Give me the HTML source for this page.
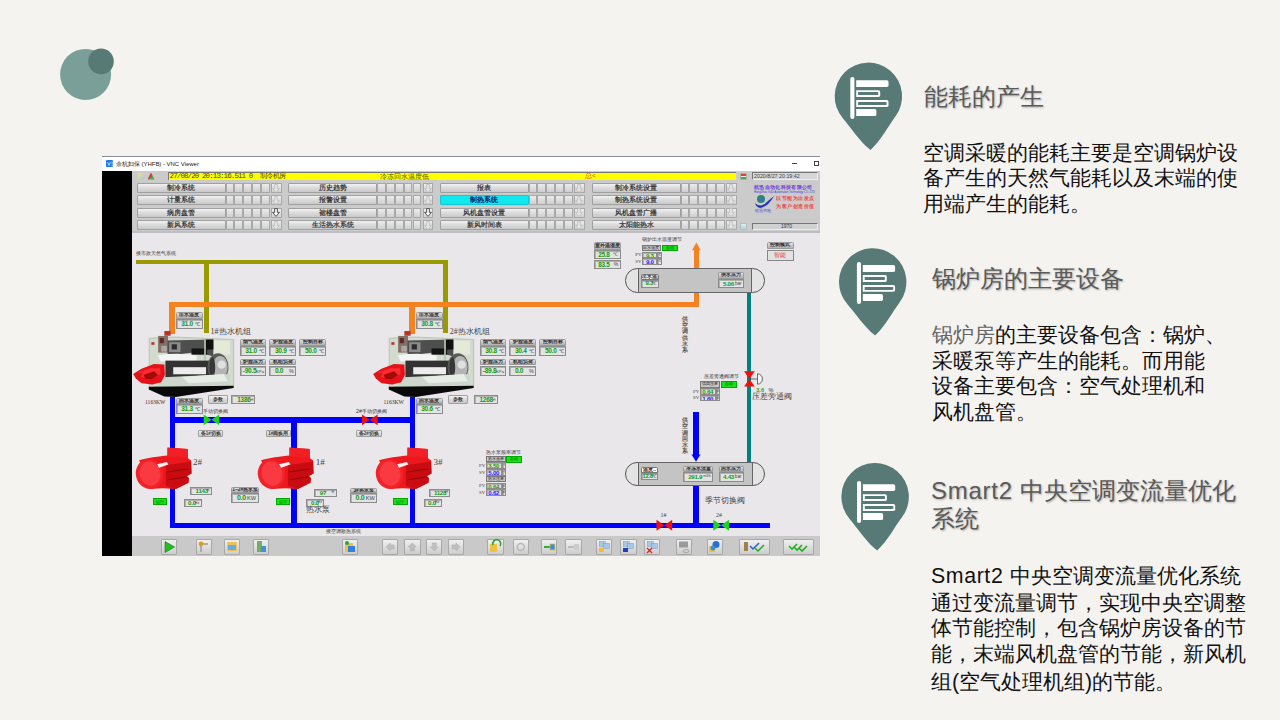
<!DOCTYPE html>
<html><head><meta charset="utf-8">
<style>
*{margin:0;padding:0;box-sizing:border-box}
html,body{width:1280px;height:720px;overflow:hidden}
body{position:relative;background:#f5f3f0;font-family:"Liberation Sans",sans-serif}
.a{position:absolute}
.t{position:absolute;white-space:nowrap;line-height:1}
.ttl{position:absolute;font-size:24px;line-height:28.5px;color:#5a5a5a;text-shadow:1px 1px 2px rgba(0,0,0,.28);white-space:nowrap}
.bd{position:absolute;font-size:21.33px;color:#111;white-space:nowrap}
.btn{position:absolute;background:linear-gradient(#f2f2f2,#dcdcdc 45%,#c9c9c9);border:1px solid #a0a0a0;border-radius:1px;font-size:6.7px;font-weight:bold;color:#3a3a3a;text-align:center;line-height:8px;white-space:nowrap;overflow:hidden}
.sq{position:absolute;background:linear-gradient(#ececec,#cfcfcf);border:1px solid #a8a8a8}
.pn{position:absolute}
.ph{position:absolute;left:0;right:0;top:0;background:linear-gradient(#e2e2e2,#b0b0b0);border:1px solid #9a9a9a;border-radius:1.5px 1.5px 0 0;font-size:4.8px;font-weight:bold;color:#222;text-align:center;white-space:nowrap;overflow:hidden}
.pv{position:absolute;left:0;right:0;background:#e3e3e3;border:1px solid #8c8c8c;box-shadow:inset 1px 1px 0 #b0b0b0;white-space:nowrap;overflow:hidden}
.g{color:#129a12;font-weight:bold;letter-spacing:-0.3px}
.b{color:#1a1aff;font-weight:bold;letter-spacing:-0.3px}
.tb{position:absolute;background:linear-gradient(#f0f0f0,#cdcdcd);border:1px solid #a8a8a8;border-radius:1px}
</style></head><body>

<svg class="a" style="left:0;top:0" width="1280" height="720">
<circle cx="85.6" cy="74.4" r="25.5" fill="#7a9e98"/>
<circle cx="101" cy="61.4" r="12.8" fill="#587a75"/>
<path d="M843.00 118.45 C851.28 127.94 859.16 140.87 870.60 150.10 C881.24 139.96 888.05 126.44 895.52 116.30 A33.7 33.7 0 1 0 843.00 118.45 Z" fill="#587a76"/>
<rect x="850.30" y="77.00" width="4.1" height="42.1" rx="2.05" fill="#fff"/><path d="M856.20 80.20 H886.80 Q888.50 80.20 888.50 81.90 V85.30 Q888.50 87.00 886.80 87.00 H856.20 Z" fill="#fff"/><path d="M856.20 90.20 H878.50 Q880.20 90.20 880.20 91.90 V95.30 Q880.20 97.00 878.50 97.00 H856.20 Z" fill="#fff"/><path d="M858.10 92.10 H877.50 Q878.30 92.10 878.30 92.90 V94.30 Q878.30 95.10 877.50 95.10 H858.10 Z" fill="#587a76"/><path d="M856.20 100.10 H886.80 Q888.50 100.10 888.50 101.80 V105.20 Q888.50 106.90 886.80 106.90 H856.20 Z" fill="#fff"/><path d="M858.10 102.00 H885.80 Q886.60 102.00 886.60 102.80 V104.20 Q886.60 105.00 885.80 105.00 H858.10 Z" fill="#587a76"/><path d="M856.20 109.10 H874.70 Q876.40 109.10 876.40 110.80 V114.40 Q876.40 116.10 874.70 116.10 H856.20 Z" fill="#fff"/>
<path d="M847.45 304.32 C855.75 313.70 863.67 326.50 875.10 335.60 C885.67 325.51 892.42 312.06 899.84 301.97 A33.7 33.7 0 1 0 847.45 304.32 Z" fill="#587a76"/>
<rect x="856.90" y="261.90" width="4.1" height="42.1" rx="2.05" fill="#fff"/><path d="M862.80 265.10 H893.40 Q895.10 265.10 895.10 266.80 V270.20 Q895.10 271.90 893.40 271.90 H862.80 Z" fill="#fff"/><path d="M862.80 275.10 H885.10 Q886.80 275.10 886.80 276.80 V280.20 Q886.80 281.90 885.10 281.90 H862.80 Z" fill="#fff"/><path d="M864.70 277.00 H884.10 Q884.90 277.00 884.90 277.80 V279.20 Q884.90 280.00 884.10 280.00 H864.70 Z" fill="#587a76"/><path d="M862.80 285.00 H893.40 Q895.10 285.00 895.10 286.70 V290.10 Q895.10 291.80 893.40 291.80 H862.80 Z" fill="#fff"/><path d="M864.70 286.90 H892.40 Q893.20 286.90 893.20 287.70 V289.10 Q893.20 289.90 892.40 289.90 H864.70 Z" fill="#587a76"/><path d="M862.80 294.00 H881.30 Q883.00 294.00 883.00 295.70 V299.30 Q883.00 301.00 881.30 301.00 H862.80 Z" fill="#fff"/>
<path d="M849.63 518.90 C857.90 528.41 865.77 541.35 877.20 550.60 C887.87 540.49 894.71 526.97 902.22 516.85 A33.75 33.75 0 1 0 849.63 518.90 Z" fill="#587a76"/>
<rect x="857.00" y="481.00" width="4.1" height="42.1" rx="2.05" fill="#fff"/><path d="M862.90 484.20 H893.50 Q895.20 484.20 895.20 485.90 V489.30 Q895.20 491.00 893.50 491.00 H862.90 Z" fill="#fff"/><path d="M862.90 494.20 H885.20 Q886.90 494.20 886.90 495.90 V499.30 Q886.90 501.00 885.20 501.00 H862.90 Z" fill="#fff"/><path d="M864.80 496.10 H884.20 Q885.00 496.10 885.00 496.90 V498.30 Q885.00 499.10 884.20 499.10 H864.80 Z" fill="#587a76"/><path d="M862.90 504.10 H893.50 Q895.20 504.10 895.20 505.80 V509.20 Q895.20 510.90 893.50 510.90 H862.90 Z" fill="#fff"/><path d="M864.80 506.00 H892.50 Q893.30 506.00 893.30 506.80 V508.20 Q893.30 509.00 892.50 509.00 H864.80 Z" fill="#587a76"/><path d="M862.90 513.10 H881.40 Q883.10 513.10 883.10 514.80 V518.40 Q883.10 520.10 881.40 520.10 H862.90 Z" fill="#fff"/>
</svg>
<div class="ttl" style="left:924px;top:82.6px">能耗的产生</div>
<div class="bd" style="left:923.2px;top:141px;line-height:25.3px">空调采暖的能耗主要是空调锅炉设<br>备产生的天然气能耗以及末端的使<br>用端产生的能耗。</div>
<div class="ttl" style="left:932px;top:265px">锅炉房的主要设备</div>
<div class="bd" style="left:932px;top:323.2px;line-height:25.6px"><span style="color:#666">锅炉房</span>的主要设备包含：锅炉、<br>采暖泵等产生的能耗。而用能<br>设备主要包含：空气处理机和<br>风机盘管。</div>
<div class="ttl" style="left:931px;top:476.8px"><span style="letter-spacing:0.75px">Smart2 </span>中央空调变流量优化<br>系统</div>
<div class="bd" style="left:931px;top:564.2px;line-height:25px"><span style="letter-spacing:0.6px">Smart2 </span>中央空调变流量优化系统</div>
<div class="bd" style="left:931px;top:591px;line-height:25px">通过变流量调节，实现中央空调整</div>
<div class="bd" style="left:931px;top:615.5px;line-height:25px">体节能控制，包含锅炉房设备的节</div>
<div class="bd" style="left:931px;top:642px;line-height:25px">能，末端风机盘管的节能，新风机</div>
<div class="bd" style="left:931px;top:669.5px;line-height:25px">组(空气处理机组)的节能。</div>
<div class="a" style="left:102.0px;top:156.0px;width:718.0px;height:1.0px;background:#8a8f99"></div>
<div class="a" style="left:102.0px;top:157.0px;width:718.0px;height:14.0px;background:#ffffff"></div>
<div class="a" style="left:105.6px;top:159.8px;width:7.9px;height:7.5px;background:#1e7ae8;border-radius:1px"></div>
<svg class="a" style="left:105.6px;top:159.8px" width="8" height="8"><path d="M1.5 2 L3 5.5 L4.5 2 M5.5 2.2 H7 M5.5 3.8 H7 M5.5 5.4 H7" stroke="#cfe4ff" stroke-width="0.8" fill="none"/></svg>
<div class="t" style="left:116.0px;top:161.2px;font-size:6px;color:#1a1a1a;letter-spacing:-0.03px">余杭妇保 (YHFB) - VNC Viewer</div>
<div class="a" style="left:791.5px;top:163.0px;width:5.0px;height:1.0px;background:#444"></div>
<div class="a" style="left:814.0px;top:160.8px;width:5.0px;height:5.0px;border:1px solid #444"></div>
<div class="a" style="left:102.0px;top:171.0px;width:30.3px;height:385.0px;background:#000"></div>
<div class="a" style="left:132.3px;top:171.0px;width:687.7px;height:61.5px;background:#cbcbcb"></div>
<div class="a" style="left:132.3px;top:232.5px;width:687.7px;height:303.8px;background:#e9e7ea"></div>
<div class="a" style="left:132.3px;top:230.5px;width:687.7px;height:2.5px;background:#bdbdc4"></div>
<div class="a" style="left:132.3px;top:536.3px;width:687.7px;height:19.7px;background:#c9c9c9"></div>
<div class="a" style="left:168.4px;top:171.8px;width:567.8px;height:8.4px;background:#ffff00;border-top:1px solid #777;border-left:1px solid #777"></div>
<div class="t" style="left:169.6px;top:172.8px;font-size:7.5px;color:#4a4a10;font-family:'Liberation Mono',monospace;letter-spacing:-0.9px">27/08/20 20:13:16.511 0&nbsp;&nbsp;<span style='font-size:7px;letter-spacing:-0.4px'>制冷机房</span></div>
<div class="t" style="left:380.3px;top:173.2px;font-size:7.4px;color:#55550a">冷冻回水温度低</div>
<div class="t" style="left:585.0px;top:173.2px;font-size:6.5px;color:#e05050">总<</div>
<div class="a" style="left:137.5px;top:173.0px;width:6.0px;height:6.5px;background:linear-gradient(135deg,#f6e08a,#9ccbe0);border-radius:1px"></div>
<div class="a" style="left:147.5px;top:172.5px;width:7.0px;height:7.0px;background:linear-gradient(135deg,#e03030 40%,#40b040 60%);clip-path:polygon(50% 0,100% 100%,0 100%)"></div>
<div class="a" style="left:740.0px;top:172.5px;width:6.5px;height:7.0px;background:linear-gradient(#e04040 0 35%,#f0f0f0 35% 60%,#40b040 60%);border:1px solid #aaa;border-radius:1px"></div>
<div class="a" style="left:752.0px;top:171.6px;width:66.0px;height:8.0px;background:#d6d6d6;border:1px solid #777;border-right-color:#eee;border-bottom-color:#eee"></div>
<div class="t" style="left:754.0px;top:173.8px;font-size:5.3px;color:#444">2020/8/27 20:19:42</div>
<div class="btn" style="left:136.6px;top:183.0px;width:89px;height:10px;">制冷系统</div>
<div class="sq" style="left:225.6px;top:183.0px;width:8.8px;height:10px"></div>
<div class="sq" style="left:234.4px;top:183.0px;width:8.8px;height:10px"></div>
<div class="sq" style="left:243.2px;top:183.0px;width:8.8px;height:10px"></div>
<div class="sq" style="left:252.0px;top:183.0px;width:8.8px;height:10px"></div>
<div class="sq" style="left:260.8px;top:183.0px;width:8.8px;height:10px"></div>
<div class="sq" style="left:271.2px;top:183.0px;width:10.4px;height:10px;background:linear-gradient(#eee,#d0d0d0)"></div>
<svg class="a" style="left:272.4px;top:183.6px" width="8" height="9"><path d="M2.6 0.6 H5.4 V4.4 H7.4 L4 8.4 L0.6 4.4 H2.6 Z" fill="#e4e4e4" stroke="#bbb" stroke-width="0.8"/></svg>
<div class="btn" style="left:136.6px;top:195.3px;width:89px;height:10px;">计量系统</div>
<div class="sq" style="left:225.6px;top:195.3px;width:8.8px;height:10px"></div>
<div class="sq" style="left:234.4px;top:195.3px;width:8.8px;height:10px"></div>
<div class="sq" style="left:243.2px;top:195.3px;width:8.8px;height:10px"></div>
<div class="sq" style="left:252.0px;top:195.3px;width:8.8px;height:10px"></div>
<div class="sq" style="left:260.8px;top:195.3px;width:8.8px;height:10px"></div>
<div class="sq" style="left:271.2px;top:195.3px;width:10.4px;height:10px;background:linear-gradient(#eee,#d0d0d0)"></div>
<svg class="a" style="left:272.4px;top:195.9px" width="8" height="9"><path d="M2.6 0.6 H5.4 V4.4 H7.4 L4 8.4 L0.6 4.4 H2.6 Z" fill="#e4e4e4" stroke="#bbb" stroke-width="0.8"/></svg>
<div class="btn" style="left:136.6px;top:207.6px;width:89px;height:10px;">病房盘管</div>
<div class="sq" style="left:225.6px;top:207.6px;width:8.8px;height:10px"></div>
<div class="sq" style="left:234.4px;top:207.6px;width:8.8px;height:10px"></div>
<div class="sq" style="left:243.2px;top:207.6px;width:8.8px;height:10px"></div>
<div class="sq" style="left:252.0px;top:207.6px;width:8.8px;height:10px"></div>
<div class="sq" style="left:260.8px;top:207.6px;width:8.8px;height:10px"></div>
<div class="sq" style="left:271.2px;top:207.6px;width:10.4px;height:10px;background:linear-gradient(#eee,#d0d0d0)"></div>
<svg class="a" style="left:272.4px;top:208.2px" width="8" height="9"><path d="M2.6 0.6 H5.4 V4.4 H7.4 L4 8.4 L0.6 4.4 H2.6 Z" fill="#f4f4f4" stroke="#333" stroke-width="0.8"/></svg>
<div class="btn" style="left:136.6px;top:219.9px;width:89px;height:10px;">新风系统</div>
<div class="sq" style="left:225.6px;top:219.9px;width:8.8px;height:10px"></div>
<div class="sq" style="left:234.4px;top:219.9px;width:8.8px;height:10px"></div>
<div class="sq" style="left:243.2px;top:219.9px;width:8.8px;height:10px"></div>
<div class="sq" style="left:252.0px;top:219.9px;width:8.8px;height:10px"></div>
<div class="sq" style="left:260.8px;top:219.9px;width:8.8px;height:10px"></div>
<div class="sq" style="left:271.2px;top:219.9px;width:10.4px;height:10px;background:linear-gradient(#eee,#d0d0d0)"></div>
<svg class="a" style="left:272.4px;top:220.5px" width="8" height="9"><path d="M2.6 0.6 H5.4 V4.4 H7.4 L4 8.4 L0.6 4.4 H2.6 Z" fill="#e4e4e4" stroke="#bbb" stroke-width="0.8"/></svg>
<div class="btn" style="left:288.3px;top:183.0px;width:89px;height:10px;">历史趋势</div>
<div class="sq" style="left:377.3px;top:183.0px;width:8.8px;height:10px"></div>
<div class="sq" style="left:386.1px;top:183.0px;width:8.8px;height:10px"></div>
<div class="sq" style="left:394.9px;top:183.0px;width:8.8px;height:10px"></div>
<div class="sq" style="left:403.7px;top:183.0px;width:8.8px;height:10px"></div>
<div class="sq" style="left:412.5px;top:183.0px;width:8.8px;height:10px"></div>
<div class="sq" style="left:422.9px;top:183.0px;width:10.4px;height:10px;background:linear-gradient(#eee,#d0d0d0)"></div>
<svg class="a" style="left:424.1px;top:183.6px" width="8" height="9"><path d="M2.6 0.6 H5.4 V4.4 H7.4 L4 8.4 L0.6 4.4 H2.6 Z" fill="#e4e4e4" stroke="#bbb" stroke-width="0.8"/></svg>
<div class="btn" style="left:288.3px;top:195.3px;width:89px;height:10px;">报警设置</div>
<div class="sq" style="left:377.3px;top:195.3px;width:8.8px;height:10px"></div>
<div class="sq" style="left:386.1px;top:195.3px;width:8.8px;height:10px"></div>
<div class="sq" style="left:394.9px;top:195.3px;width:8.8px;height:10px"></div>
<div class="sq" style="left:403.7px;top:195.3px;width:8.8px;height:10px"></div>
<div class="sq" style="left:412.5px;top:195.3px;width:8.8px;height:10px"></div>
<div class="sq" style="left:422.9px;top:195.3px;width:10.4px;height:10px;background:linear-gradient(#eee,#d0d0d0)"></div>
<svg class="a" style="left:424.1px;top:195.9px" width="8" height="9"><path d="M2.6 0.6 H5.4 V4.4 H7.4 L4 8.4 L0.6 4.4 H2.6 Z" fill="#e4e4e4" stroke="#bbb" stroke-width="0.8"/></svg>
<div class="btn" style="left:288.3px;top:207.6px;width:89px;height:10px;">裙楼盘管</div>
<div class="sq" style="left:377.3px;top:207.6px;width:8.8px;height:10px"></div>
<div class="sq" style="left:386.1px;top:207.6px;width:8.8px;height:10px"></div>
<div class="sq" style="left:394.9px;top:207.6px;width:8.8px;height:10px"></div>
<div class="sq" style="left:403.7px;top:207.6px;width:8.8px;height:10px"></div>
<div class="sq" style="left:412.5px;top:207.6px;width:8.8px;height:10px"></div>
<div class="sq" style="left:422.9px;top:207.6px;width:10.4px;height:10px;background:linear-gradient(#eee,#d0d0d0)"></div>
<svg class="a" style="left:424.1px;top:208.2px" width="8" height="9"><path d="M2.6 0.6 H5.4 V4.4 H7.4 L4 8.4 L0.6 4.4 H2.6 Z" fill="#f4f4f4" stroke="#333" stroke-width="0.8"/></svg>
<div class="btn" style="left:288.3px;top:219.9px;width:89px;height:10px;">生活热水系统</div>
<div class="sq" style="left:377.3px;top:219.9px;width:8.8px;height:10px"></div>
<div class="sq" style="left:386.1px;top:219.9px;width:8.8px;height:10px"></div>
<div class="sq" style="left:394.9px;top:219.9px;width:8.8px;height:10px"></div>
<div class="sq" style="left:403.7px;top:219.9px;width:8.8px;height:10px"></div>
<div class="sq" style="left:412.5px;top:219.9px;width:8.8px;height:10px"></div>
<div class="sq" style="left:422.9px;top:219.9px;width:10.4px;height:10px;background:linear-gradient(#eee,#d0d0d0)"></div>
<svg class="a" style="left:424.1px;top:220.5px" width="8" height="9"><path d="M2.6 0.6 H5.4 V4.4 H7.4 L4 8.4 L0.6 4.4 H2.6 Z" fill="#e4e4e4" stroke="#bbb" stroke-width="0.8"/></svg>
<div class="btn" style="left:439.6px;top:183.0px;width:89px;height:10px;">报表</div>
<div class="sq" style="left:528.6px;top:183.0px;width:8.8px;height:10px"></div>
<div class="sq" style="left:537.4px;top:183.0px;width:8.8px;height:10px"></div>
<div class="sq" style="left:546.2px;top:183.0px;width:8.8px;height:10px"></div>
<div class="sq" style="left:555.0px;top:183.0px;width:8.8px;height:10px"></div>
<div class="sq" style="left:563.8px;top:183.0px;width:8.8px;height:10px"></div>
<div class="sq" style="left:574.2px;top:183.0px;width:10.4px;height:10px;background:linear-gradient(#eee,#d0d0d0)"></div>
<svg class="a" style="left:575.4px;top:183.6px" width="8" height="9"><path d="M2.6 0.6 H5.4 V4.4 H7.4 L4 8.4 L0.6 4.4 H2.6 Z" fill="#e4e4e4" stroke="#bbb" stroke-width="0.8"/></svg>
<div class="btn" style="left:439.6px;top:195.3px;width:89px;height:10px;background:#10e8ee;border-color:#10c8d0;color:#116">制热系统</div>
<div class="sq" style="left:528.6px;top:195.3px;width:8.8px;height:10px"></div>
<div class="sq" style="left:537.4px;top:195.3px;width:8.8px;height:10px"></div>
<div class="sq" style="left:546.2px;top:195.3px;width:8.8px;height:10px"></div>
<div class="sq" style="left:555.0px;top:195.3px;width:8.8px;height:10px"></div>
<div class="sq" style="left:563.8px;top:195.3px;width:8.8px;height:10px"></div>
<div class="sq" style="left:574.2px;top:195.3px;width:10.4px;height:10px;background:linear-gradient(#eee,#d0d0d0)"></div>
<svg class="a" style="left:575.4px;top:195.9px" width="8" height="9"><path d="M2.6 0.6 H5.4 V4.4 H7.4 L4 8.4 L0.6 4.4 H2.6 Z" fill="#e4e4e4" stroke="#bbb" stroke-width="0.8"/></svg>
<div class="btn" style="left:439.6px;top:207.6px;width:89px;height:10px;">风机盘管设置</div>
<div class="sq" style="left:528.6px;top:207.6px;width:8.8px;height:10px"></div>
<div class="sq" style="left:537.4px;top:207.6px;width:8.8px;height:10px"></div>
<div class="sq" style="left:546.2px;top:207.6px;width:8.8px;height:10px"></div>
<div class="sq" style="left:555.0px;top:207.6px;width:8.8px;height:10px"></div>
<div class="sq" style="left:563.8px;top:207.6px;width:8.8px;height:10px"></div>
<div class="sq" style="left:574.2px;top:207.6px;width:10.4px;height:10px;background:linear-gradient(#eee,#d0d0d0)"></div>
<svg class="a" style="left:575.4px;top:208.2px" width="8" height="9"><path d="M2.6 0.6 H5.4 V4.4 H7.4 L4 8.4 L0.6 4.4 H2.6 Z" fill="#e4e4e4" stroke="#bbb" stroke-width="0.8"/></svg>
<div class="btn" style="left:439.6px;top:219.9px;width:89px;height:10px;">新风时间表</div>
<div class="sq" style="left:528.6px;top:219.9px;width:8.8px;height:10px"></div>
<div class="sq" style="left:537.4px;top:219.9px;width:8.8px;height:10px"></div>
<div class="sq" style="left:546.2px;top:219.9px;width:8.8px;height:10px"></div>
<div class="sq" style="left:555.0px;top:219.9px;width:8.8px;height:10px"></div>
<div class="sq" style="left:563.8px;top:219.9px;width:8.8px;height:10px"></div>
<div class="sq" style="left:574.2px;top:219.9px;width:10.4px;height:10px;background:linear-gradient(#eee,#d0d0d0)"></div>
<svg class="a" style="left:575.4px;top:220.5px" width="8" height="9"><path d="M2.6 0.6 H5.4 V4.4 H7.4 L4 8.4 L0.6 4.4 H2.6 Z" fill="#e4e4e4" stroke="#bbb" stroke-width="0.8"/></svg>
<div class="btn" style="left:591.6px;top:183.0px;width:89px;height:10px;">制冷系统设置</div>
<div class="sq" style="left:680.6px;top:183.0px;width:8.8px;height:10px"></div>
<div class="sq" style="left:689.4px;top:183.0px;width:8.8px;height:10px"></div>
<div class="sq" style="left:698.2px;top:183.0px;width:8.8px;height:10px"></div>
<div class="sq" style="left:707.0px;top:183.0px;width:8.8px;height:10px"></div>
<div class="sq" style="left:715.8px;top:183.0px;width:8.8px;height:10px"></div>
<div class="sq" style="left:726.2px;top:183.0px;width:10.4px;height:10px;background:linear-gradient(#eee,#d0d0d0)"></div>
<svg class="a" style="left:727.4px;top:183.6px" width="8" height="9"><path d="M2.6 0.6 H5.4 V4.4 H7.4 L4 8.4 L0.6 4.4 H2.6 Z" fill="#e4e4e4" stroke="#bbb" stroke-width="0.8"/></svg>
<div class="btn" style="left:591.6px;top:195.3px;width:89px;height:10px;">制热系统设置</div>
<div class="sq" style="left:680.6px;top:195.3px;width:8.8px;height:10px"></div>
<div class="sq" style="left:689.4px;top:195.3px;width:8.8px;height:10px"></div>
<div class="sq" style="left:698.2px;top:195.3px;width:8.8px;height:10px"></div>
<div class="sq" style="left:707.0px;top:195.3px;width:8.8px;height:10px"></div>
<div class="sq" style="left:715.8px;top:195.3px;width:8.8px;height:10px"></div>
<div class="sq" style="left:726.2px;top:195.3px;width:10.4px;height:10px;background:linear-gradient(#eee,#d0d0d0)"></div>
<svg class="a" style="left:727.4px;top:195.9px" width="8" height="9"><path d="M2.6 0.6 H5.4 V4.4 H7.4 L4 8.4 L0.6 4.4 H2.6 Z" fill="#e4e4e4" stroke="#bbb" stroke-width="0.8"/></svg>
<div class="btn" style="left:591.6px;top:207.6px;width:89px;height:10px;">风机盘管广播</div>
<div class="sq" style="left:680.6px;top:207.6px;width:8.8px;height:10px"></div>
<div class="sq" style="left:689.4px;top:207.6px;width:8.8px;height:10px"></div>
<div class="sq" style="left:698.2px;top:207.6px;width:8.8px;height:10px"></div>
<div class="sq" style="left:707.0px;top:207.6px;width:8.8px;height:10px"></div>
<div class="sq" style="left:715.8px;top:207.6px;width:8.8px;height:10px"></div>
<div class="sq" style="left:726.2px;top:207.6px;width:10.4px;height:10px;background:linear-gradient(#eee,#d0d0d0)"></div>
<svg class="a" style="left:727.4px;top:208.2px" width="8" height="9"><path d="M2.6 0.6 H5.4 V4.4 H7.4 L4 8.4 L0.6 4.4 H2.6 Z" fill="#e4e4e4" stroke="#bbb" stroke-width="0.8"/></svg>
<div class="btn" style="left:591.6px;top:219.9px;width:89px;height:10px;">太阳能热水</div>
<div class="sq" style="left:680.6px;top:219.9px;width:8.8px;height:10px"></div>
<div class="sq" style="left:689.4px;top:219.9px;width:8.8px;height:10px"></div>
<div class="sq" style="left:698.2px;top:219.9px;width:8.8px;height:10px"></div>
<div class="sq" style="left:707.0px;top:219.9px;width:8.8px;height:10px"></div>
<div class="sq" style="left:715.8px;top:219.9px;width:8.8px;height:10px"></div>
<div class="sq" style="left:726.2px;top:219.9px;width:10.4px;height:10px;background:linear-gradient(#eee,#d0d0d0)"></div>
<svg class="a" style="left:727.4px;top:220.5px" width="8" height="9"><path d="M2.6 0.6 H5.4 V4.4 H7.4 L4 8.4 L0.6 4.4 H2.6 Z" fill="#e4e4e4" stroke="#bbb" stroke-width="0.8"/></svg>
<div class="t" style="left:754.0px;top:184.8px;font-size:5.4px;color:#6a3de0;letter-spacing:0.33px;font-weight:bold">杭迅自动化科技有限公司</div>
<div class="t" style="left:754.0px;top:191.3px;font-size:2.9px;color:#4040d0;letter-spacing:-0.05px">HangZhou YuDi Automation Technology CO.,LTD</div>
<svg class="a" style="left:754px;top:193px" width="22" height="20"><ellipse cx="7" cy="6" rx="4" ry="4" fill="#2a8a60"/><ellipse cx="7" cy="6.5" rx="2.3" ry="2.3" fill="#3a70c0"/><path d="M1 10 Q7 16 14 8 L20 3 Q14 14 6 15 Q2 14 1 10Z" fill="#2030c0"/><text x="1" y="19" font-size="3.5" fill="#3a3ad8">杭迅节能</text></svg>
<div class="t" style="left:776.0px;top:195.6px;font-size:5.4px;color:#f04848;letter-spacing:0.55px;font-weight:bold">以节能为出发点</div>
<div class="t" style="left:776.0px;top:204.4px;font-size:5.4px;color:#f04848;letter-spacing:0.55px;font-weight:bold">为客户创造价值</div>
<div class="a" style="left:739.5px;top:223.0px;width:7.5px;height:7.0px;background:linear-gradient(#d8f0f8,#b0d0e0);border:1px solid #bbb"></div>
<div class="a" style="left:752.0px;top:222.5px;width:66.0px;height:7.7px;background:#d0d0d0;border:1px solid #777;border-right-color:#eee;border-bottom-color:#eee"></div>
<div class="t" style="left:781.0px;top:224.3px;font-size:5px;color:#333">1970</div>
<div class="t" style="left:136.0px;top:251.2px;font-size:5.3px;color:#333">接市政天然气系统</div>
<div class="a" style="left:136.0px;top:259.5px;width:312.2px;height:4.7px;background:#999900"></div>
<div class="a" style="left:203.5px;top:259.5px;width:5.3px;height:73.5px;background:#999900"></div>
<div class="a" style="left:443.0px;top:259.5px;width:5.2px;height:73.5px;background:#999900"></div>
<div class="a" style="left:169.4px;top:301.5px;width:529.5px;height:5.1px;background:#f58220"></div>
<div class="a" style="left:169.4px;top:301.5px;width:5.2px;height:32.5px;background:#f58220"></div>
<div class="a" style="left:409.4px;top:301.5px;width:5.2px;height:32.5px;background:#f58220"></div>
<div class="a" style="left:693.8px;top:292.7px;width:5.1px;height:13.9px;background:#f58220"></div>
<div class="a" style="left:693.8px;top:249.5px;width:5.1px;height:19.0px;background:#f58220"></div>
<svg class="a" style="left:690px;top:241px" width="12" height="10"><path d="M2 9.3 L6.35 1.4 L10.7 9.3Z" fill="#f58220"/></svg>
<div class="a" style="left:747.0px;top:292.7px;width:4.2px;height:169.0px;background:#008080"></div>
<div class="a" style="left:169.6px;top:396.6px;width:5.4px;height:131.1px;background:#0000ff"></div>
<div class="a" style="left:169.6px;top:417.0px;width:245.4px;height:5.6px;background:#0000ff"></div>
<div class="a" style="left:409.5px;top:396.6px;width:5.5px;height:131.1px;background:#0000ff"></div>
<div class="a" style="left:291.3px;top:422.6px;width:5.7px;height:105.1px;background:#0000ff"></div>
<div class="a" style="left:169.6px;top:522.7px;width:600.7px;height:5.0px;background:#0000ff"></div>
<div class="a" style="left:693.1px;top:485.9px;width:5.7px;height:41.8px;background:#0000ff"></div>
<div class="a" style="left:693.1px;top:412.0px;width:5.7px;height:43.0px;background:#0000ff"></div>
<svg class="a" style="left:690px;top:454px" width="12" height="9"><path d="M1.5 0.5 L10.5 0.5 L6 7.8Z" fill="#0000ff"/></svg>
<div class="a" style="left:625.0px;top:268.2px;width:140.3px;height:24.7px;background:#e4e4e4;border:1px solid #555;border-radius:12.3px"></div>
<div class="a" style="left:638.1px;top:268.2px;width:114.3px;height:24.7px;background:#c4c4c4;border:1px solid #666"></div>
<div class="a" style="left:625.3px;top:461.7px;width:139.9px;height:24.3px;background:#e4e4e4;border:1px solid #555;border-radius:12.2px"></div>
<div class="a" style="left:638.4px;top:461.7px;width:114.3px;height:24.3px;background:#c4c4c4;border:1px solid #666"></div>
<div class="ph" style="left:175.6px;top:311.9px;width:27.2px;height:6.8px;line-height:4.8px;">出水温度</div>
<div class="pv" style="left:175.6px;top:318.7px;width:27.2px;height:10.2px;font-size:6.6px;line-height:8.2px"><span class="g" style="position:absolute;left:4.6px">31.0</span><span style="position:absolute;right:1.5px;color:#444;font-size:5.3px">℃</span></div>
<div class="ph" style="left:239.6px;top:338.8px;width:26.9px;height:6.8px;line-height:4.8px;">烟气温度</div>
<div class="pv" style="left:239.6px;top:345.6px;width:26.9px;height:10.2px;font-size:6.6px;line-height:8.2px"><span class="g" style="position:absolute;left:4.6px">31.0</span><span style="position:absolute;right:1.5px;color:#444;font-size:5.3px">℃</span></div>
<div class="ph" style="left:269.3px;top:338.8px;width:27.0px;height:6.8px;line-height:4.8px;">炉膛温度</div>
<div class="pv" style="left:269.3px;top:345.6px;width:27.0px;height:10.2px;font-size:6.6px;line-height:8.2px"><span class="g" style="position:absolute;left:4.6px">30.9</span><span style="position:absolute;right:1.5px;color:#444;font-size:5.3px">℃</span></div>
<div class="ph" style="left:299.3px;top:338.8px;width:27.2px;height:6.8px;line-height:4.8px;">控制目标</div>
<div class="pv" style="left:299.3px;top:345.6px;width:27.2px;height:10.2px;font-size:6.6px;line-height:8.2px"><span class="g" style="position:absolute;left:4.6px">50.0</span><span style="position:absolute;right:1.5px;color:#444;font-size:5.3px">℃</span></div>
<div class="ph" style="left:239.6px;top:358.7px;width:26.9px;height:6.8px;line-height:4.8px;">炉膛压力</div>
<div class="pv" style="left:239.6px;top:365.5px;width:26.9px;height:10.2px;font-size:6.6px;line-height:8.2px"><span class="g" style="position:absolute;left:2.2px">-90.5</span><span style="position:absolute;right:1.5px;color:#444;font-size:5.3px"><span style='font-size:4.2px'>KPa</span></span></div>
<div class="ph" style="left:269.3px;top:358.7px;width:27.0px;height:6.8px;line-height:4.8px;">机组负荷</div>
<div class="pv" style="left:269.3px;top:365.5px;width:27.0px;height:10.2px;font-size:6.6px;line-height:8.2px"><span class="g" style="position:absolute;left:4.6px">0.0</span><span style="position:absolute;right:1.5px;color:#444;font-size:5.3px">%</span></div>
<div class="ph" style="left:175.6px;top:397.5px;width:27.2px;height:6.8px;line-height:4.8px;">回水温度</div>
<div class="pv" style="left:175.6px;top:404.3px;width:27.2px;height:10.2px;font-size:6.6px;line-height:8.2px"><span class="g" style="position:absolute;left:4.6px">31.3</span><span style="position:absolute;right:1.5px;color:#444;font-size:5.3px">℃</span></div>
<div class="btn" style="left:208.4px;top:394.7px;width:20px;height:9px;font-size:4.5px;line-height:7px">参数</div>
<div class="pv" style="left:231.3px;top:394.7px;width:24px;height:9px;font-size:6.5px;line-height:7px"><span class="g" style="position:absolute;left:5px">1386</span><span style="position:absolute;right:1px;color:#555;font-size:4px">H</span></div>
<div class="t" style="left:210.6px;top:327.5px;font-size:8px;color:#444;font-family:'Liberation Serif',serif">1#热水机组</div>
<div class="t" style="left:145.0px;top:399.5px;font-size:5.6px;color:#333;font-family:'Liberation Serif',serif">1163KW</div>
<div class="ph" style="left:415.6px;top:311.9px;width:27.2px;height:6.8px;line-height:4.8px;">出水温度</div>
<div class="pv" style="left:415.6px;top:318.7px;width:27.2px;height:10.2px;font-size:6.6px;line-height:8.2px"><span class="g" style="position:absolute;left:4.6px">30.8</span><span style="position:absolute;right:1.5px;color:#444;font-size:5.3px">℃</span></div>
<div class="ph" style="left:479.6px;top:338.8px;width:26.9px;height:6.8px;line-height:4.8px;">烟气温度</div>
<div class="pv" style="left:479.6px;top:345.6px;width:26.9px;height:10.2px;font-size:6.6px;line-height:8.2px"><span class="g" style="position:absolute;left:4.6px">30.8</span><span style="position:absolute;right:1.5px;color:#444;font-size:5.3px">℃</span></div>
<div class="ph" style="left:509.3px;top:338.8px;width:27.0px;height:6.8px;line-height:4.8px;">炉膛温度</div>
<div class="pv" style="left:509.3px;top:345.6px;width:27.0px;height:10.2px;font-size:6.6px;line-height:8.2px"><span class="g" style="position:absolute;left:4.6px">30.4</span><span style="position:absolute;right:1.5px;color:#444;font-size:5.3px">℃</span></div>
<div class="ph" style="left:539.3px;top:338.8px;width:27.2px;height:6.8px;line-height:4.8px;">控制目标</div>
<div class="pv" style="left:539.3px;top:345.6px;width:27.2px;height:10.2px;font-size:6.6px;line-height:8.2px"><span class="g" style="position:absolute;left:4.6px">50.0</span><span style="position:absolute;right:1.5px;color:#444;font-size:5.3px">℃</span></div>
<div class="ph" style="left:479.6px;top:358.7px;width:26.9px;height:6.8px;line-height:4.8px;">炉膛压力</div>
<div class="pv" style="left:479.6px;top:365.5px;width:26.9px;height:10.2px;font-size:6.6px;line-height:8.2px"><span class="g" style="position:absolute;left:2.2px">-89.8</span><span style="position:absolute;right:1.5px;color:#444;font-size:5.3px"><span style='font-size:4.2px'>KPa</span></span></div>
<div class="ph" style="left:509.3px;top:358.7px;width:27.0px;height:6.8px;line-height:4.8px;">机组负荷</div>
<div class="pv" style="left:509.3px;top:365.5px;width:27.0px;height:10.2px;font-size:6.6px;line-height:8.2px"><span class="g" style="position:absolute;left:4.6px">0.0</span><span style="position:absolute;right:1.5px;color:#444;font-size:5.3px">%</span></div>
<div class="ph" style="left:415.6px;top:397.5px;width:27.2px;height:6.8px;line-height:4.8px;">回水温度</div>
<div class="pv" style="left:415.6px;top:404.3px;width:27.2px;height:10.2px;font-size:6.6px;line-height:8.2px"><span class="g" style="position:absolute;left:4.6px">30.6</span><span style="position:absolute;right:1.5px;color:#444;font-size:5.3px">℃</span></div>
<div class="btn" style="left:448.4px;top:394.7px;width:20px;height:9px;font-size:4.5px;line-height:7px">参数</div>
<div class="pv" style="left:473.5px;top:394.7px;width:24px;height:9px;font-size:6.5px;line-height:7px"><span class="g" style="position:absolute;left:5px">1268</span><span style="position:absolute;right:1px;color:#555;font-size:4px">H</span></div>
<div class="t" style="left:449.7px;top:327.5px;font-size:8px;color:#444;font-family:'Liberation Serif',serif">2#热水机组</div>
<div class="t" style="left:383.5px;top:399.5px;font-size:5.6px;color:#333;font-family:'Liberation Serif',serif">1163KW</div>
<div class="t" style="left:203.0px;top:408.5px;font-size:5.2px;color:#333">手动切换阀</div>
<div class="t" style="left:356.0px;top:408.5px;font-size:5.2px;color:#333">2#手动切换阀</div>
<svg class="a" style="left:130px;top:325px" width="110" height="75" viewBox="0 0 1056 720">
<polygon points="185,128 300,118 450,116 995,140 995,590 185,600" fill="#d2dbcd" stroke="#b3bfae" stroke-width="8"/>
<rect x="800" y="150" width="160" height="135" fill="#e4ead8"/>
<rect x="270" y="105" width="95" height="160" fill="#857068"/>
<rect x="285" y="125" width="40" height="50" fill="#5a2a2a"/>
<rect x="300" y="200" width="55" height="55" fill="#a8a8a0"/>
<polygon points="360,148 800,140 800,300 640,262 360,292" fill="#4e4e4e"/>
<rect x="375" y="165" width="110" height="95" fill="#8a8a8a"/>
<rect x="400" y="185" width="50" height="50" fill="#2a2a2a"/>
<rect x="590" y="225" width="150" height="60" fill="#151515"/>
<rect x="725" y="140" width="75" height="95" fill="#101010"/>
<rect x="712" y="140" width="16" height="450" fill="#b8c0b4"/>
<path d="M270 290 Q460 262 640 292 L640 342 Q460 352 290 350Z" fill="#f4f4f4"/>
<rect x="340" y="342" width="420" height="168" fill="#333"/>
<rect x="415" y="405" width="315" height="68" fill="#ececec"/>
<ellipse cx="845" cy="405" rx="100" ry="135" fill="#5a5a5a"/>
<ellipse cx="865" cy="405" rx="72" ry="108" fill="#b4b4b4"/>
<ellipse cx="880" cy="380" rx="40" ry="40" fill="#e0e0e0"/>
<ellipse cx="790" cy="405" rx="28" ry="95" fill="#383838"/>
<polygon points="270,505 960,470 960,580 270,592" fill="#cdd6cb"/>
<polygon points="500,500 900,470 940,540 560,560" fill="#e8ece6"/>
<polygon points="180,592 995,582 995,604 440,690 330,686 180,618" fill="#0a0a0a"/>
<path d="M30 470 L110 420 L230 375 L330 378 L335 480 L300 550 L215 572 L110 560 L55 510Z" fill="#e5121a"/>
<path d="M80 455 L190 415 L290 415 L295 470 L220 510 L110 505Z" fill="#ff2a30"/>
<path d="M130 480 L230 445 L270 480 L210 520 L150 515Z" fill="#a00a0a"/>
<path d="M60 470 L120 455 L110 490Z" fill="#c02020"/>
<rect x="330" y="58" width="60" height="45" fill="#b83028"/>
<rect x="205" y="165" width="30" height="25" fill="#c03030"/>
</svg>
<svg class="a" style="left:370px;top:325px" width="110" height="75" viewBox="0 0 1056 720">
<polygon points="185,128 300,118 450,116 995,140 995,590 185,600" fill="#d2dbcd" stroke="#b3bfae" stroke-width="8"/>
<rect x="800" y="150" width="160" height="135" fill="#e4ead8"/>
<rect x="270" y="105" width="95" height="160" fill="#857068"/>
<rect x="285" y="125" width="40" height="50" fill="#5a2a2a"/>
<rect x="300" y="200" width="55" height="55" fill="#a8a8a0"/>
<polygon points="360,148 800,140 800,300 640,262 360,292" fill="#4e4e4e"/>
<rect x="375" y="165" width="110" height="95" fill="#8a8a8a"/>
<rect x="400" y="185" width="50" height="50" fill="#2a2a2a"/>
<rect x="590" y="225" width="150" height="60" fill="#151515"/>
<rect x="725" y="140" width="75" height="95" fill="#101010"/>
<rect x="712" y="140" width="16" height="450" fill="#b8c0b4"/>
<path d="M270 290 Q460 262 640 292 L640 342 Q460 352 290 350Z" fill="#f4f4f4"/>
<rect x="340" y="342" width="420" height="168" fill="#333"/>
<rect x="415" y="405" width="315" height="68" fill="#ececec"/>
<ellipse cx="845" cy="405" rx="100" ry="135" fill="#5a5a5a"/>
<ellipse cx="865" cy="405" rx="72" ry="108" fill="#b4b4b4"/>
<ellipse cx="880" cy="380" rx="40" ry="40" fill="#e0e0e0"/>
<ellipse cx="790" cy="405" rx="28" ry="95" fill="#383838"/>
<polygon points="270,505 960,470 960,580 270,592" fill="#cdd6cb"/>
<polygon points="500,500 900,470 940,540 560,560" fill="#e8ece6"/>
<polygon points="180,592 995,582 995,604 440,690 330,686 180,618" fill="#0a0a0a"/>
<path d="M30 470 L110 420 L230 375 L330 378 L335 480 L300 550 L215 572 L110 560 L55 510Z" fill="#e5121a"/>
<path d="M80 455 L190 415 L290 415 L295 470 L220 510 L110 505Z" fill="#ff2a30"/>
<path d="M130 480 L230 445 L270 480 L210 520 L150 515Z" fill="#a00a0a"/>
<path d="M60 470 L120 455 L110 490Z" fill="#c02020"/>
<rect x="330" y="58" width="60" height="45" fill="#b83028"/>
<rect x="205" y="165" width="30" height="25" fill="#c03030"/>
</svg>
<svg class="a" style="left:130px;top:440px" width="70" height="55" viewBox="0 0 916 720">
<path d="M120 265 C200 240 400 208 490 202 L490 98 L755 118 L760 240 L800 268 L805 440 L745 470 L772 500 L765 560 L600 642 L430 632 L250 640Z" fill="#ec181e"/>
<polygon points="470,330 800,280 805,440 745,470 772,500 765,560 600,642 470,600" fill="#c80c12"/>
<polygon points="490,100 755,118 758,230 490,215" fill="#f02026"/>
<ellipse cx="255" cy="445" rx="178" ry="198" transform="rotate(-15 255 445)" fill="#f2222a"/>
<ellipse cx="262" cy="440" rx="135" ry="160" transform="rotate(-15 262 440)" fill="#fa3a40"/>
<polygon points="355,318 482,288 502,322 380,362" fill="#fff2f2"/>
<path d="M480 420 L760 380 M500 520 L740 480" stroke="#a00008" stroke-width="14"/>
</svg>
<svg class="a" style="left:252.4px;top:440px" width="70" height="55" viewBox="0 0 916 720">
<path d="M120 265 C200 240 400 208 490 202 L490 98 L755 118 L760 240 L800 268 L805 440 L745 470 L772 500 L765 560 L600 642 L430 632 L250 640Z" fill="#ec181e"/>
<polygon points="470,330 800,280 805,440 745,470 772,500 765,560 600,642 470,600" fill="#c80c12"/>
<polygon points="490,100 755,118 758,230 490,215" fill="#f02026"/>
<ellipse cx="255" cy="445" rx="178" ry="198" transform="rotate(-15 255 445)" fill="#f2222a"/>
<ellipse cx="262" cy="440" rx="135" ry="160" transform="rotate(-15 262 440)" fill="#fa3a40"/>
<polygon points="355,318 482,288 502,322 380,362" fill="#fff2f2"/>
<path d="M480 420 L760 380 M500 520 L740 480" stroke="#a00008" stroke-width="14"/>
</svg>
<svg class="a" style="left:370.4px;top:440px" width="70" height="55" viewBox="0 0 916 720">
<path d="M120 265 C200 240 400 208 490 202 L490 98 L755 118 L760 240 L800 268 L805 440 L745 470 L772 500 L765 560 L600 642 L430 632 L250 640Z" fill="#ec181e"/>
<polygon points="470,330 800,280 805,440 745,470 772,500 765,560 600,642 470,600" fill="#c80c12"/>
<polygon points="490,100 755,118 758,230 490,215" fill="#f02026"/>
<ellipse cx="255" cy="445" rx="178" ry="198" transform="rotate(-15 255 445)" fill="#f2222a"/>
<ellipse cx="262" cy="440" rx="135" ry="160" transform="rotate(-15 262 440)" fill="#fa3a40"/>
<polygon points="355,318 482,288 502,322 380,362" fill="#fff2f2"/>
<path d="M480 420 L760 380 M500 520 L740 480" stroke="#a00008" stroke-width="14"/>
</svg>
<svg class="a" style="left:0;top:0;overflow:visible" width="1" height="1"><path d="M203.7 414.4L203.7 425.2L211.45 419.79999999999995Z M219.2 414.4L219.2 425.2L211.45 419.79999999999995Z" fill="#1ed21e"/></svg>
<svg class="a" style="left:0;top:0;overflow:visible" width="1" height="1"><path d="M362 414.4L362 425.2L369.8 419.79999999999995Z M377.6 414.4L377.6 425.2L369.8 419.79999999999995Z" fill="#ee1010"/></svg>
<svg class="a" style="left:0;top:0;overflow:visible" width="1" height="1"><path d="M656.5 519.7L656.5 530.8L664.35 525.25Z M672.2 519.7L672.2 530.8L664.35 525.25Z" fill="#ee1010"/></svg>
<svg class="a" style="left:0;top:0;overflow:visible" width="1" height="1"><path d="M713.3 519.7L713.3 530.8L721.15 525.25Z M729 519.7L729 530.8L721.15 525.25Z" fill="#1ed21e"/></svg>
<svg class="a" style="left:0;top:0;overflow:visible" width="1" height="1"><path d="M744 371.3L754.8 371.3L749.4 379Z M744 386.6L754.8 386.6L749.4 379Z" fill="#ee1010"/><path d="M749.4 379H757.5" stroke="#333" stroke-width="0.7"/><path d="M757.5 373.8 A5 5.2 0 0 1 757.5 384.2Z" fill="#f4f4f4" stroke="#333" stroke-width="0.7"/></svg>
<div class="btn" style="left:198.3px;top:430.0px;width:24.9px;height:7.2px;font-size:4.5px;line-height:5.2px">备1#切换</div>
<div class="btn" style="left:265.5px;top:430.0px;width:25.4px;height:7.2px;font-size:4.5px;line-height:5.2px">1#阀换用</div>
<div class="btn" style="left:355.7px;top:430.0px;width:26.0px;height:7.2px;font-size:4.5px;line-height:5.2px">备2#切换</div>
<div class="t" style="left:193.0px;top:458.0px;font-size:9px;color:#444;font-family:'Liberation Serif',serif">2#</div>
<div class="t" style="left:315.8px;top:458.0px;font-size:9px;color:#444;font-family:'Liberation Serif',serif">1#</div>
<div class="t" style="left:433.6px;top:458.0px;font-size:9px;color:#444;font-family:'Liberation Serif',serif">3#</div>
<div class="a" style="left:152.8px;top:497.5px;width:14.2px;height:7.5px;background:#19e019;border:1px solid #0a0;font-size:4px;color:#060;text-align:center;line-height:6px">运行</div>
<div class="a" style="left:276.0px;top:497.5px;width:14.2px;height:7.5px;background:#19e019;border:1px solid #0a0;font-size:4px;color:#060;text-align:center;line-height:6px">运行</div>
<div class="a" style="left:393.4px;top:497.5px;width:14.2px;height:7.5px;background:#19e019;border:1px solid #0a0;font-size:4px;color:#060;text-align:center;line-height:6px">运行</div>
<div class="pv" style="left:190.2px;top:487.0px;width:21.8px;height:7.6px;font-size:6.2px;line-height:5.6px"><span class="g" style="position:absolute;left:4.4px">1143</span><span style="position:absolute;right:1.5px;color:#444;font-size:3.6px">m</span></div>
<div class="pv" style="left:314.4px;top:489.0px;width:22.2px;height:7.6px;font-size:6.2px;line-height:5.6px"><span class="g" style="position:absolute;left:4.4px">97</span><span style="position:absolute;right:1.5px;color:#444;font-size:3.6px">H</span></div>
<div class="pv" style="left:428.6px;top:489.0px;width:21.7px;height:7.6px;font-size:6.2px;line-height:5.6px"><span class="g" style="position:absolute;left:4.3px">1128</span><span style="position:absolute;right:1.5px;color:#444;font-size:3.6px">H</span></div>
<div class="pv" style="left:183.5px;top:498.5px;width:18.2px;height:8.1px;font-size:6.2px;line-height:6.1px"><span class="g" style="position:absolute;left:3.6px">0.0</span><span style="position:absolute;right:1.5px;color:#444;font-size:3.6px">Hz</span></div>
<div class="pv" style="left:306.4px;top:499.0px;width:18.1px;height:7.6px;font-size:6.2px;line-height:5.6px"><span class="g" style="position:absolute;left:3.6px">0.0</span><span style="position:absolute;right:1.5px;color:#444;font-size:3.6px">Hz</span></div>
<div class="pv" style="left:423.5px;top:499.0px;width:18.2px;height:7.6px;font-size:6.2px;line-height:5.6px"><span class="g" style="position:absolute;left:3.6px">0.0</span><span style="position:absolute;right:1.5px;color:#444;font-size:3.6px">Hz</span></div>
<div class="ph" style="left:231.3px;top:487.0px;width:27.3px;height:5.6px;line-height:3.6px;">1~2#热水泵</div>
<div class="pv" style="left:231.3px;top:492.6px;width:27.3px;height:10.0px;font-size:7px;line-height:8.0px"><span class="g" style="position:absolute;left:4.6px">0.0</span><span style="position:absolute;right:1.5px;color:#444;font-size:5.6px">KW</span></div>
<div class="ph" style="left:350.0px;top:487.5px;width:27.2px;height:5.6px;line-height:3.6px;">3#热水泵</div>
<div class="pv" style="left:350.0px;top:493.1px;width:27.2px;height:10.0px;font-size:7px;line-height:8.0px"><span class="g" style="position:absolute;left:4.6px">0.0</span><span style="position:absolute;right:1.5px;color:#444;font-size:5.6px">KW</span></div>
<div class="t" style="left:306.4px;top:505.5px;font-size:8px;color:#444;font-family:'Liberation Serif',serif">热水泵</div>
<div class="t" style="left:326.4px;top:529.0px;font-size:5.2px;color:#333">接空调散热系统</div>
<div class="t" style="left:486.0px;top:449.5px;font-size:5px;color:#333">热水泵频率调节</div>
<div class="a" style="left:486.0px;top:455.5px;width:19.5px;height:6.5px;background:#c8c8c8;border:1px solid #777;font-size:4px;color:#222;text-align:center;line-height:4.5px;white-space:nowrap;overflow:hidden;">热水温差</div>
<div class="a" style="left:505.5px;top:455.9px;width:16.7px;height:6.8px;background:#c8c8c8;border:1px solid #777;font-size:4px;color:#222;text-align:center;line-height:4.8px;white-space:nowrap;overflow:hidden;background:#19e019;border-color:#0a0;color:#060">自动</div>
<div class="t" style="left:479.0px;top:463.1px;font-size:5px;color:#444;font-family:'Liberation Serif',serif">PV</div>
<div class="pv" style="left:486.0px;top:462.3px;width:15.5px;height:6.9px;font-size:6.2px;line-height:5px;text-align:center"><span class="g">3.50</span></div>
<div class="pv" style="left:501.5px;top:462.3px;width:4.4px;height:6.9px;font-size:3.6px;line-height:5px;color:#444">℃</div>
<div class="t" style="left:479.0px;top:470.0px;font-size:5px;color:#444;font-family:'Liberation Serif',serif">SV</div>
<div class="pv" style="left:486.0px;top:469.2px;width:15.5px;height:6.9px;font-size:6.2px;line-height:5px;text-align:center"><span class="b">5.00</span></div>
<div class="pv" style="left:501.5px;top:469.2px;width:4.4px;height:6.9px;font-size:3.6px;line-height:5px;color:#444">℃</div>
<div class="a" style="left:486.0px;top:476.1px;width:19.5px;height:6.2px;background:#c8c8c8;border:1px solid #777;font-size:4px;color:#222;text-align:center;line-height:4.2px;white-space:nowrap;overflow:hidden;">热水压差</div>
<div class="t" style="left:479.0px;top:483.3px;font-size:5px;color:#444;font-family:'Liberation Serif',serif">PV</div>
<div class="pv" style="left:486.0px;top:482.5px;width:15.5px;height:6.9px;font-size:6.2px;line-height:5px;text-align:center"><span class="g">0.64</span></div>
<div class="pv" style="left:501.5px;top:482.5px;width:4.4px;height:6.9px;font-size:3.6px;line-height:5px;color:#444">bar</div>
<div class="t" style="left:479.0px;top:490.2px;font-size:5px;color:#444;font-family:'Liberation Serif',serif">SV</div>
<div class="pv" style="left:486.0px;top:489.4px;width:15.5px;height:6.9px;font-size:6.2px;line-height:5px;text-align:center"><span class="b">0.62</span></div>
<div class="pv" style="left:501.5px;top:489.4px;width:4.4px;height:6.9px;font-size:3.6px;line-height:5px;color:#444">bar</div>
<div class="t" style="left:641.9px;top:236.8px;font-size:5px;color:#333">锅炉出水温度调节</div>
<div class="a" style="left:641.9px;top:245.1px;width:18.9px;height:6.1px;background:#c8c8c8;border:1px solid #777;font-size:4px;color:#222;text-align:center;line-height:4.1px;white-space:nowrap;overflow:hidden;">出水温度</div>
<div class="a" style="left:661.6px;top:245.1px;width:16.4px;height:6.1px;background:#c8c8c8;border:1px solid #777;font-size:4px;color:#222;text-align:center;line-height:4.1px;white-space:nowrap;overflow:hidden;background:#19e019;border-color:#0a0;color:#060">自动</div>
<div class="t" style="left:635.3px;top:252.4px;font-size:5px;color:#444;font-family:'Liberation Serif',serif">PV</div>
<div class="pv" style="left:642.3px;top:251.6px;width:14.9px;height:6.9px;font-size:6.2px;line-height:5px;text-align:center"><span class="g">9.3</span></div>
<div class="pv" style="left:657.2px;top:251.6px;width:4.4px;height:6.9px;font-size:3.6px;line-height:5px;color:#444">℃</div>
<div class="t" style="left:635.3px;top:259.2px;font-size:5px;color:#444;font-family:'Liberation Serif',serif">SV</div>
<div class="pv" style="left:642.3px;top:258.4px;width:14.9px;height:6.9px;font-size:6.2px;line-height:5px;text-align:center"><span class="b">9.0</span></div>
<div class="pv" style="left:657.2px;top:258.4px;width:4.4px;height:6.9px;font-size:3.6px;line-height:5px;color:#444">℃</div>
<div class="ph" style="left:593.8px;top:242.4px;width:27px;height:7.2px;line-height:5.2px">室外温湿度</div>
<div class="pv" style="left:593.8px;top:250.0px;width:27.0px;height:9.4px;font-size:6.4px;line-height:7.4px"><span class="g" style="position:absolute;left:3.5px">25.8</span><span style="position:absolute;right:1.5px;color:#444;font-size:5px">℃</span></div>
<div class="pv" style="left:593.8px;top:259.6px;width:27.0px;height:9.6px;font-size:6.4px;line-height:7.6px"><span class="g" style="position:absolute;left:3.5px">83.5</span><span style="position:absolute;right:1.5px;color:#444;font-size:5px">%</span></div>
<div class="ph" style="left:767.3px;top:242.4px;width:26.4px;height:6.8px;line-height:4.8px">控制模式</div>
<div class="a" style="left:767.3px;top:249.6px;width:26.4px;height:11.0px;background:#e2e2e2;border:1px solid #888;font-size:5.5px;color:#f03030;text-align:center;line-height:9px">智能</div>
<div class="ph" style="left:641.0px;top:273.8px;width:17.7px;height:6.6px;line-height:4.6px;background:#fff;border-color:#777">出水温度</div>
<div class="pv" style="left:641.0px;top:280.4px;width:17.7px;height:7.2px;font-size:6px;line-height:5.2px"><span class="g" style="position:absolute;left:3.5px">9.3</span><span style="position:absolute;right:1.5px;color:#444;font-size:4.5px">℃</span></div>
<div class="ph" style="left:718.4px;top:272.1px;width:25.7px;height:6.8px;line-height:4.8px;">供水压力</div>
<div class="pv" style="left:718.4px;top:278.9px;width:25.7px;height:9.6px;font-size:6.2px;line-height:7.6px"><span class="g" style="position:absolute;left:3.6px">5.06</span><span style="position:absolute;right:1.5px;color:#444;font-size:4.6px">bar</span></div>
<div class="ph" style="left:640.8px;top:467.0px;width:17.7px;height:6.2px;line-height:4.2px;background:#fff;border-color:#777">温度..</div>
<div class="pv" style="left:640.8px;top:473.2px;width:17.7px;height:7.2px;font-size:5.8px;line-height:5.2px"><span class="g" style="position:absolute;left:0.7px">12.8</span><span style="position:absolute;right:1.5px;color:#444;font-size:4.5px">℃</span></div>
<div class="ph" style="left:683.0px;top:466.0px;width:30.3px;height:6.4px;line-height:4.4px;">冷冻水流量</div>
<div class="pv" style="left:683.0px;top:472.4px;width:30.3px;height:9.4px;font-size:6.2px;line-height:7.4px"><span class="g" style="position:absolute;left:4.2px">291.9</span><span style="position:absolute;right:1.5px;color:#444;font-size:3.4px">m3/h</span></div>
<div class="ph" style="left:718.5px;top:466.0px;width:25.5px;height:6.4px;line-height:4.4px;">回水压力</div>
<div class="pv" style="left:718.5px;top:472.4px;width:25.5px;height:9.4px;font-size:6.2px;line-height:7.4px"><span class="g" style="position:absolute;left:3.6px">4.43</span><span style="position:absolute;right:1.5px;color:#444;font-size:4.6px">bar</span></div>
<div class="t" style="left:682.0px;top:315.8px;font-size:5.6px;line-height:6.25px;color:#555;font-weight:bold;text-align:center;width:6px">供<br>空<br>调<br>供<br>水<br>系</div>
<div class="t" style="left:681.6px;top:417.0px;font-size:5.6px;line-height:6.25px;color:#555;font-weight:bold;text-align:center;width:6px">供<br>空<br>调<br>回<br>水<br>系</div>
<div class="t" style="left:703.7px;top:375.0px;font-size:4.8px;color:#333">压差旁通阀调节</div>
<div class="a" style="left:700.0px;top:381.2px;width:19.7px;height:6.6px;background:#c8c8c8;border:1px solid #777;font-size:4px;color:#222;text-align:center;line-height:4.6px;white-space:nowrap;overflow:hidden;">供回压差</div>
<div class="a" style="left:720.6px;top:381.2px;width:16.9px;height:6.6px;background:#c8c8c8;border:1px solid #777;font-size:4px;color:#222;text-align:center;line-height:4.6px;white-space:nowrap;overflow:hidden;background:#19e019;border-color:#0a0;color:#060">自动</div>
<div class="t" style="left:693.0px;top:388.7px;font-size:5px;color:#444;font-family:'Liberation Serif',serif">PV</div>
<div class="pv" style="left:700.0px;top:387.9px;width:15.5px;height:6.9px;font-size:6.2px;line-height:5px;text-align:center"><span class="g">0.64</span></div>
<div class="pv" style="left:715.5px;top:387.9px;width:4.4px;height:6.9px;font-size:3.6px;line-height:5px;color:#444">bar</div>
<div class="t" style="left:693.0px;top:395.4px;font-size:5px;color:#444;font-family:'Liberation Serif',serif">SV</div>
<div class="pv" style="left:700.0px;top:394.6px;width:15.5px;height:6.9px;font-size:6.2px;line-height:5px;text-align:center"><span class="b">1.60</span></div>
<div class="pv" style="left:715.5px;top:394.6px;width:4.4px;height:6.9px;font-size:3.6px;line-height:5px;color:#444">bar</div>
<div class="t" style="left:756.3px;top:387.5px;font-size:5.5px"><span style="color:#1fa31f;font-weight:bold">3.6</span>&nbsp;&nbsp;&nbsp;<span style="color:#333">%</span></div>
<div class="t" style="left:752.0px;top:393.3px;font-size:7.8px;color:#444">压差旁通阀</div>
<div class="t" style="left:705.2px;top:497.2px;font-size:7.6px;color:#444">季节切换阀</div>
<div class="t" style="left:660.5px;top:511.5px;font-size:6px;color:#444;font-family:'Liberation Serif',serif">1#</div>
<div class="t" style="left:715.9px;top:511.5px;font-size:6px;color:#444;font-family:'Liberation Serif',serif">2#</div>
<div class="tb" style="left:161.4px;top:538.6px;width:16.1px;height:16.6px"></div>
<div class="tb" style="left:195.6px;top:538.6px;width:16.5px;height:16.6px"></div>
<div class="tb" style="left:223.8px;top:538.6px;width:16.7px;height:16.6px"></div>
<div class="tb" style="left:253.0px;top:538.6px;width:16.1px;height:16.6px"></div>
<div class="tb" style="left:341.6px;top:538.6px;width:16.5px;height:16.6px"></div>
<div class="tb" style="left:381.9px;top:538.6px;width:16.5px;height:16.6px"></div>
<div class="tb" style="left:404.0px;top:538.6px;width:16.5px;height:16.6px"></div>
<div class="tb" style="left:426.2px;top:538.6px;width:16.1px;height:16.6px"></div>
<div class="tb" style="left:447.6px;top:538.6px;width:16.7px;height:16.6px"></div>
<div class="tb" style="left:487.3px;top:538.6px;width:16.5px;height:16.6px"></div>
<div class="tb" style="left:512.7px;top:538.6px;width:16.3px;height:16.6px"></div>
<div class="tb" style="left:541.0px;top:538.6px;width:16.3px;height:16.6px"></div>
<div class="tb" style="left:565.3px;top:538.6px;width:16.7px;height:16.6px"></div>
<div class="tb" style="left:596.3px;top:538.6px;width:15.9px;height:16.6px"></div>
<div class="tb" style="left:620.3px;top:538.6px;width:16.3px;height:16.6px"></div>
<div class="tb" style="left:644.2px;top:538.6px;width:16.1px;height:16.6px"></div>
<div class="tb" style="left:676.0px;top:538.6px;width:16.4px;height:16.6px"></div>
<div class="tb" style="left:706.6px;top:538.6px;width:16.9px;height:16.6px"></div>
<div class="tb" style="left:739.4px;top:538.6px;width:30.2px;height:16.6px"></div>
<div class="tb" style="left:783.0px;top:538.6px;width:30.5px;height:16.6px"></div>
<svg class="a" style="left:0;top:0;overflow:visible" width="1" height="1">
<path d="M165 541.5 L174.5 547 L165 552.5Z" fill="#20c020" stroke="#107010" stroke-width="0.6"/>
<circle cx="201" cy="544" r="2.4" fill="#d8a020"/><path d="M201 546 L201 552 M203 544 H208" stroke="#999" stroke-width="1.4"/>
<rect x="227" y="542" width="10" height="9" fill="#f0c060"/><rect x="228" y="545" width="8" height="5" fill="#60b0e0"/>
<rect x="257" y="541" width="5" height="11" fill="#70b060"/><rect x="261" y="546" width="5" height="6" fill="#4090e0"/>
<rect x="345" y="543" width="8" height="9" fill="#f0c040"/><rect x="348" y="546" width="7" height="6" fill="#3080e0"/><circle cx="347" cy="543" r="2" fill="#30a030"/>
<path d="M386.15 547 L390.15 543 L390.15 545 L394.15 545 L394.15 549 L390.15 549 L390.15 551Z" fill="#c0c0c0" stroke="#a8a8a8" stroke-width="0.5"/>
<path d="M412.25 543 L408.25 547 L410.25 547 L410.25 551 L414.25 551 L414.25 547 L416.25 547Z" fill="#c0c0c0" stroke="#a8a8a8" stroke-width="0.5"/>
<path d="M434.25 551 L430.25 547 L432.25 547 L432.25 543 L436.25 543 L436.25 547 L438.25 547Z" fill="#c0c0c0" stroke="#a8a8a8" stroke-width="0.5"/>
<path d="M459.95000000000005 547 L455.95000000000005 543 L455.95000000000005 545 L451.95000000000005 545 L451.95000000000005 549 L455.95000000000005 549 L455.95000000000005 551Z" fill="#c0c0c0" stroke="#a8a8a8" stroke-width="0.5"/>
<rect x="490" y="544" width="7" height="8" fill="#f0c040"/><path d="M493 545 A4 4 0 1 1 500 546" stroke="#30a030" stroke-width="1.6" fill="none"/>
<circle cx="520.8" cy="547" r="3.5" fill="none" stroke="#b8b8b8" stroke-width="1.5"/>
<path d="M544 547 H551" stroke="#30b030" stroke-width="2"/><rect x="550" y="544" width="5" height="6" fill="#3090e0" stroke="#f0c040" stroke-width="0.8"/>
<path d="M568 547 H575" stroke="#bbb" stroke-width="2"/><rect x="574" y="544" width="5" height="6" fill="#ccc"/>
<rect x="599.3" y="541.5" width="6" height="5" fill="#a8c8e8" stroke="#6a8ab0" stroke-width="0.4"/><rect x="603.3" y="543.5" width="6" height="5" fill="#a8c8e8" stroke="#6a8ab0" stroke-width="0.4"/>
<rect x="623.3" y="541.5" width="6" height="5" fill="#a8c8e8" stroke="#6a8ab0" stroke-width="0.4"/><rect x="627.3" y="543.5" width="6" height="5" fill="#a8c8e8" stroke="#6a8ab0" stroke-width="0.4"/>
<rect x="647.2" y="541.5" width="6" height="5" fill="#a8c8e8" stroke="#6a8ab0" stroke-width="0.4"/><rect x="651.2" y="543.5" width="6" height="5" fill="#a8c8e8" stroke="#6a8ab0" stroke-width="0.4"/>
<rect x="599" y="548" width="5" height="4" fill="#f0c030"/>
<rect x="623" y="548" width="5" height="4" fill="#2040c0"/>
<path d="M647 548 L652 553 M652 548 L647 553" stroke="#e02020" stroke-width="1.3"/>
<rect x="679" y="541.5" width="9" height="6" fill="#9a9a9a"/><ellipse cx="686" cy="551" rx="3" ry="1.5" fill="none" stroke="#888" stroke-width="0.6"/>
<rect x="709" y="546" width="6" height="6" fill="#f0c030"/><circle cx="716" cy="544.5" r="3.5" fill="#2a70d0"/><circle cx="713" cy="548" r="2.5" fill="#3a90e0"/>
<rect x="744" y="542" width="4" height="9" fill="#a08050"/><path d="M750 546 l3 3 l6 -6" stroke="#2a60d0" stroke-width="1.5" fill="none"/><path d="M755 548 l3 3 l6 -6" stroke="#20b020" stroke-width="1.5" fill="none"/>
<path d="M789 546 l3 3 l5 -5 M794 547 l3 3 l5 -5 M799 548 l3 3 l5 -5" stroke="#20b020" stroke-width="1.6" fill="none"/>
</svg>
</body></html>
